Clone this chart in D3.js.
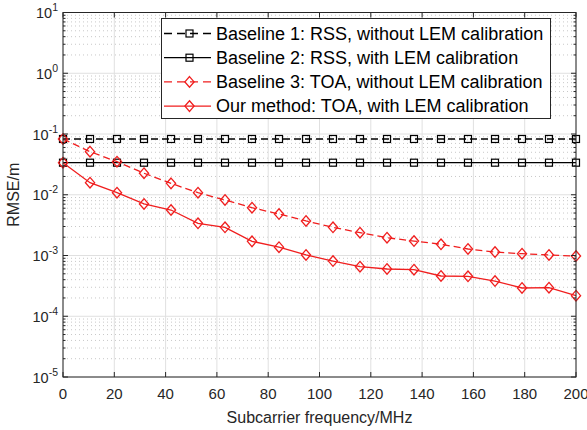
<!DOCTYPE html>
<html><head><meta charset="utf-8">
<script src="https://cdn.jsdelivr.net/npm/d3@7"></script>
<style>body{margin:0;background:#fff}svg{display:block;font-family:"Liberation Sans",Arial,sans-serif}</style>
</head><body><svg id="c" width="587" height="430"></svg>
<script>
const freqs = [0,10.53,21.05,31.58,42.11,52.63,63.16,73.68,84.21,94.74,105.26,115.79,126.32,136.84,147.37,157.89,168.42,178.95,189.47,200];
const baseline1 = Array(20).fill(0.0828);
const baseline2 = Array(20).fill(0.0337);
const baseline3 = [0.0828,0.0512,0.0350,0.0226,0.0154,0.0108,0.0082,0.00612,0.00482,0.00370,0.00291,0.00237,0.00196,0.00173,0.00153,0.00128,0.00114,0.00107,0.00102,0.00098];
const ours = [0.0337,0.0158,0.0108,0.00705,0.00561,0.00339,0.00291,0.00171,0.00137,0.00102,0.00081,0.000654,0.000600,0.000584,0.000460,0.000455,0.000380,0.000292,0.000295,0.000218];
const xTicks = [0,20,40,60,80,100,120,140,160,180,200];
const yExps = [-5,-4,-3,-2,-1,0,1];
const legendLabels = ["Baseline 1: RSS, without LEM calibration","Baseline 2: RSS, with LEM calibration","Baseline 3: TOA, without LEM calibration","Our method: TOA, with LEM calibration"];
const xLabel = "Subcarrier frequency/MHz";
const yLabel = "RMSE/m";

const svg = d3.select("#c");
const L=63, R=576, T=12.5, B=377;
const x = d3.scaleLinear().domain([0,200]).range([L,R]);
const y = d3.scaleLog().domain([1e-5,10]).range([B,T]);
const red = "#f01e1e", blk = "#000";
const series = [
  {v:baseline1,c:blk,dash:"7,4",m:"sq"},
  {v:baseline2,c:blk,dash:null,m:"sq"},
  {v:baseline3,c:red,dash:"7,4",m:"di"},
  {v:ours,c:red,dash:null,m:"di"}
];
// minor grid
const minors=[];
for(let e=-5;e<1;e++) for(let k=2;k<10;k++) minors.push(k*Math.pow(10,e));
const g=svg.append("g");
g.selectAll(".mg").data(minors).join("line").attr("x1",L).attr("x2",R)
 .attr("y1",d=>y(d)).attr("y2",d=>y(d)).attr("stroke","#c8c8c8").attr("stroke-width",1).attr("stroke-dasharray","1,3");
g.selectAll(".gx").data(xTicks).join("line").attr("x1",d=>x(d)).attr("x2",d=>x(d)).attr("y1",T).attr("y2",B).attr("stroke","#e0e0e0");
g.selectAll(".gy").data(yExps).join("line").attr("x1",L).attr("x2",R).attr("y1",d=>y(Math.pow(10,d))).attr("y2",d=>y(Math.pow(10,d))).attr("stroke","#e0e0e0");

function marker(sel,type,c){
  if(type==="sq") sel.append("rect").attr("x",-3.5).attr("y",-3.5).attr("width",7).attr("height",7).attr("fill","none").attr("stroke",c).attr("stroke-width",1.2);
  else sel.append("path").attr("d","M0,-5.3L4.6,0L0,5.3L-4.6,0Z").attr("fill","none").attr("stroke",c).attr("stroke-width",1.3);
}
const line = d3.line().x((d,i)=>x(freqs[i])).y(d=>y(d));
series.forEach(s=>{
  const p=svg.append("path").datum(s.v).attr("d",line).attr("fill","none").attr("stroke",s.c).attr("stroke-width",1.3);
  if(s.dash) p.attr("stroke-dasharray",s.dash);
  s.v.forEach((v,i)=>{ marker(svg.append("g").attr("transform",`translate(${x(freqs[i])},${y(v)})`),s.m,s.c); });
});

// axes frame & ticks
const ax=svg.append("g").attr("stroke","#262626");
ax.append("rect").attr("x",L).attr("y",T).attr("width",R-L).attr("height",B-T).attr("fill","none").attr("stroke-width",1);
xTicks.forEach(t=>{ax.append("line").attr("x1",x(t)).attr("x2",x(t)).attr("y1",B).attr("y2",B-5);ax.append("line").attr("x1",x(t)).attr("x2",x(t)).attr("y1",T).attr("y2",T+5);});
yExps.forEach(e=>{const yy=y(Math.pow(10,e));ax.append("line").attr("x1",L).attr("x2",L+5).attr("y1",yy).attr("y2",yy);ax.append("line").attr("x1",R).attr("x2",R-5).attr("y1",yy).attr("y2",yy);});
minors.forEach(m=>{const yy=y(m);ax.append("line").attr("x1",L).attr("x2",L+2.5).attr("y1",yy).attr("y2",yy);ax.append("line").attr("x1",R).attr("x2",R-2.5).attr("y1",yy).attr("y2",yy);});

const tc="#262626";
svg.selectAll(".xt").data(xTicks).join("text").attr("x",d=>x(d)).attr("y",399).attr("text-anchor","middle").attr("font-size",15).attr("fill",tc).text(d=>d);
yExps.forEach(e=>{
  const t=svg.append("text").attr("x",L-5).attr("y",y(Math.pow(10,e))+5.5).attr("text-anchor","end").attr("font-size",14.5).attr("fill",tc);
  t.append("tspan").text("10");
  t.append("tspan").attr("dy",-7).attr("font-size",10.5).text(e);
});
svg.append("text").attr("x",(L+R)/2).attr("y",423).attr("text-anchor","middle").attr("font-size",16).attr("fill",tc).text(xLabel);
svg.append("text").attr("transform",`translate(19,${(T+B)/2}) rotate(-90)`).attr("text-anchor","middle").attr("font-size",16).attr("fill",tc).text(yLabel);

// legend
const lg=svg.append("g");
lg.append("rect").attr("x",161.5).attr("y",18.5).attr("width",389).attr("height",100).attr("fill","#fff").attr("stroke","#262626").attr("stroke-width",1);
series.forEach((s,i)=>{
  const yy=33.5+i*24.2;
  const l=lg.append("line").attr("x1",164).attr("x2",211).attr("y1",yy).attr("y2",yy).attr("stroke",s.c).attr("stroke-width",1.3);
  if(s.dash) l.attr("stroke-dasharray","8,5");
  marker(lg.append("g").attr("transform",`translate(189.5,${yy})`),s.m,s.c);
  lg.append("text").attr("x",216).attr("y",yy+6.3).attr("font-size",18).attr("fill","#000").text(legendLabels[i]);
});
</script></body></html>
